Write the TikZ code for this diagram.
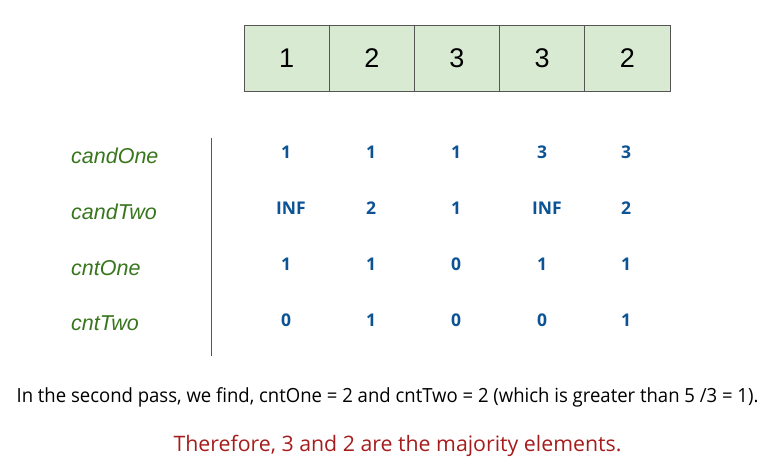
\documentclass[tikz,border=0pt]{standalone}
\usepackage{fontspec}
\setmainfont{Liberation Sans}
\newfontfamily\opensans{Open Sans}
\usepackage{graphicx}
\usepackage{tikz}

\definecolor{cellgreen}{HTML}{D9EAD3}
\definecolor{cellline}{HTML}{555555}
\definecolor{labgreen}{HTML}{38761D}
\definecolor{valblue}{HTML}{0B5394}
\definecolor{notered}{HTML}{A61C1C}

\tikzset{
  cell/.style={draw=cellline, fill=cellgreen, line width=0.8pt, minimum width=85.2pt, minimum height=66pt, inner sep=0pt, font=\fontsize{27}{27}\selectfont},
  varname/.style={anchor=west, inner sep=0pt, text=labgreen, font=\fontsize{21.5}{21.5}\selectfont\itshape},
  val/.style={inner sep=0pt, text=valblue, font=\opensans\fontsize{17.5}{17.5}\selectfont\bfseries}
}

\begin{document}
\begin{tikzpicture}[x=1pt,y=-1pt]
\useasboundingbox (0,0) rectangle (768,466);
% the array
\node[cell] (c1) at (286.6,58) {1};
\node[cell] (c2) at (371.8,58) {2};
\node[cell] (c3) at (457.0,58) {3};
\node[cell] (c4) at (542.2,58) {3};
\node[cell] (c5) at (627.4,58) {2};
% names on the left
\node[varname] (candone) at (71,156) {candOne};
\node[varname] (candtwo) at (71,212) {candTwo};
\node[varname] (cntone) at (71,268) {cntOne};
\node[varname] (cnttwo) at (71,323) {cntTwo};
\coordinate (vtop) at (211,138);
\coordinate (vbot) at (211,356);
\draw[cellline, line width=0.8pt] (vtop) -- (vbot);
% candOne row
\node[val] (a1) at (286,152) {1};
\node[val] (a2) at (371,152) {1};
\node[val] (a3) at (456,152) {1};
\node[val] (a4) at (542,152) {3};
\node[val] (a5) at (626,152) {3};
% candTwo row
\node[val] (b1) at (291,208) {INF};
\node[val] (b2) at (371,208) {2};
\node[val] (b3) at (456,208) {1};
\node[val] (b4) at (547,208) {INF};
\node[val] (b5) at (626,208) {2};
% cntOne row
\node[val] (d1) at (286,264) {1};
\node[val] (d2) at (371,264) {1};
\node[val] (d3) at (456,264) {0};
\node[val] (d4) at (542,264) {1};
\node[val] (d5) at (626,264) {1};
% cntTwo row
\node[val] (e1) at (286,320) {0};
\node[val] (e2) at (371,320) {1};
\node[val] (e3) at (456,320) {0};
\node[val] (e4) at (542,320) {0};
\node[val] (e5) at (626,320) {1};
% notes
\node[inner sep=0pt, font=\opensans\fontsize{19.5}{19.5}\selectfont] (pass) at (387.5,397)
  {\scalebox{0.95}[1]{In the second pass, we find, cntOne = 2 and cntTwo = 2 (which is greater than 5 /3 = 1).}};
\node[inner sep=0pt, text=notered, font=\opensans\fontsize{21.3}{21.3}\selectfont] (result) at (397.5,446)
  {Therefore, 3 and 2 are the majority elements.};
\end{tikzpicture}
\end{document}
